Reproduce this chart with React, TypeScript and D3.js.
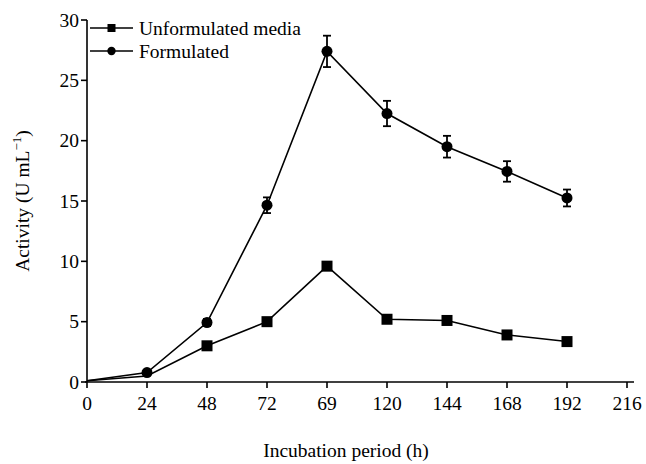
import React from "react";
import * as d3 from "d3";

// Incubation times shown on the x axis (categorical, evenly spaced)
const timeLabels = ["0", "24", "48", "72", "69", "120", "144", "168", "192", "216"];
const yTicks = [0, 5, 10, 15, 20, 25, 30];

// Enzyme activity (U mL-1) at each sampled time index
const unformulated = [0.1, 0.5, 3.0, 5.0, 9.6, 5.2, 5.1, 3.9, 3.35];
const formulated = [0.1, 0.78, 4.93, 14.65, 27.4, 22.25, 19.5, 17.45, 15.25];
const formulatedErr = [0, 0, 0.3, 0.65, 1.3, 1.05, 0.9, 0.85, 0.7];

const W = 646;
const H = 464;
const FONT = "Liberation Serif";
const FS = 19.5;

export default function App() {
  const x = d3.scaleLinear().domain([0, timeLabels.length - 1]).range([87, 627]);
  const y = d3.scaleLinear().domain([0, 30]).range([382, 20]);

  const line = d3
    .line<number>()
    .x((_, i) => x(i))
    .y((d) => y(d));

  const x0 = x(0);
  const y0 = y(0);
  const sq = 11;

  return (
    <svg width={W} height={H} style={{ position: "absolute", left: 0, top: 0, background: "#fff" }}>
      {/* axes */}
      <line x1={x0} x2={x0} y1={y0} y2={y(30)} stroke="#000" strokeWidth={1.6} />
      <line x1={x0 - 2} x2={634} y1={y0} y2={y0} stroke="#000" strokeWidth={1.6} />

      {yTicks.map((t) => (
        <g key={"y" + t}>
          <line x1={x0 - 6} x2={x0} y1={y(t)} y2={y(t)} stroke="#000" strokeWidth={1.6} />
          <text
            x={x0 - 8}
            y={y(t)}
            dy="0.35em"
            textAnchor="end"
            fontFamily={FONT}
            fontSize={FS}
            fill="#000"
          >
            {t}
          </text>
        </g>
      ))}

      {timeLabels.map((lab, i) => (
        <g key={"x" + i}>
          <line x1={x(i)} x2={x(i)} y1={y0} y2={y0 + 6} stroke="#000" strokeWidth={1.6} />
          <text x={x(i)} y={410} textAnchor="middle" fontFamily={FONT} fontSize={FS} fill="#000">
            {lab}
          </text>
        </g>
      ))}

      {/* axis titles */}
      <text x={346} y={457} textAnchor="middle" fontFamily={FONT} fontSize={FS} fill="#000">
        Incubation period (h)
      </text>
      <text
        transform={`translate(29,${(y0 + y(30)) / 2}) rotate(-90)`}
        textAnchor="middle"
        fontFamily={FONT}
        fontSize={FS}
        fill="#000"
      >
        Activity (U mL
        <tspan fontSize={13} dy={-8}>−1</tspan>
        <tspan dy={8}>)</tspan>
      </text>

      {/* series lines */}
      <path d={line(unformulated) || ""} fill="none" stroke="#000" strokeWidth={1.6} />
      <path d={line(formulated) || ""} fill="none" stroke="#000" strokeWidth={1.6} />

      {/* error bars */}
      {formulated.map((v, i) =>
        formulatedErr[i] > 0 ? (
          <g key={"e" + i} stroke="#000" strokeWidth={1.8}>
            <line x1={x(i)} x2={x(i)} y1={y(v + formulatedErr[i])} y2={y(v - formulatedErr[i])} />
            <line x1={x(i) - 4} x2={x(i) + 4} y1={y(v + formulatedErr[i])} y2={y(v + formulatedErr[i])} />
            <line x1={x(i) - 4} x2={x(i) + 4} y1={y(v - formulatedErr[i])} y2={y(v - formulatedErr[i])} />
          </g>
        ) : null
      )}

      {/* markers */}
      {unformulated.map((v, i) =>
        i === 0 || i === 1 ? null : (
          <rect key={"s" + i} x={x(i) - sq / 2} y={y(v) - sq / 2} width={sq} height={sq} fill="#000" />
        )
      )}
      {formulated.map((v, i) =>
        i === 0 ? null : <circle key={"c" + i} cx={x(i)} cy={y(v)} r={5.5} fill="#000" />
      )}

      {/* legend */}
      <g>
        <line x1={90} x2={133} y1={28} y2={28} stroke="#000" strokeWidth={1.6} />
        <rect x={107.5} y={24} width={8} height={8} fill="#000" />
        <text x={139} y={28} dy="0.35em" fontFamily={FONT} fontSize={FS} fill="#000">
          Unformulated media
        </text>
        <line x1={90} x2={133} y1={51} y2={51} stroke="#000" strokeWidth={1.6} />
        <circle cx={111.5} cy={51} r={4.2} fill="#000" />
        <text x={139} y={51} dy="0.35em" fontFamily={FONT} fontSize={FS} fill="#000">
          Formulated
        </text>
      </g>
    </svg>
  );
}
